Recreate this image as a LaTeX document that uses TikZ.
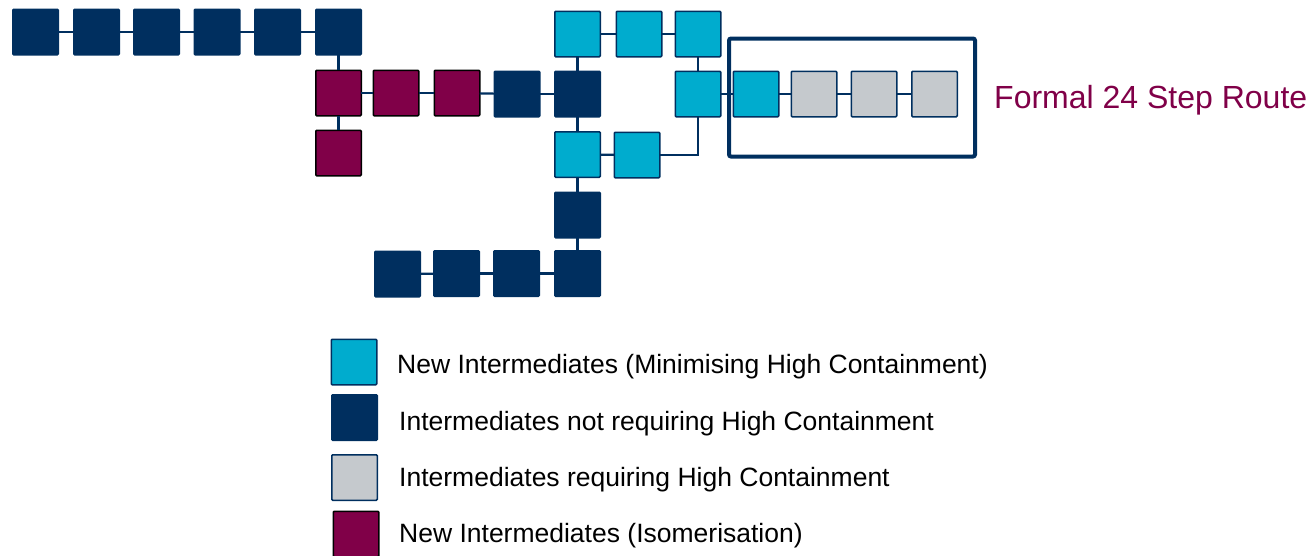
\documentclass[tikz,border=0pt]{standalone}
\usepackage{fontspec}
\setmainfont{Liberation Sans}
\definecolor{navy}{RGB}{0,47,95}
\definecolor{cyanb}{RGB}{0,172,206}
\definecolor{purp}{RGB}{128,0,72}
\definecolor{grayb}{RGB}{197,201,205}
\begin{document}
\begin{tikzpicture}[x=1pt,y=-1pt,
  sq/.style={draw, minimum size=45.5pt, inner sep=0pt, outer sep=0pt, line width=1.5pt, rounded corners=1pt},
  nv/.style={sq, fill=navy, draw=navy},
  cy/.style={sq, fill=cyanb, draw=navy},
  pu/.style={sq, fill=purp, draw=black},
  gr/.style={sq, fill=grayb, draw=navy},
  link/.style={draw=navy, line width=2.2pt},
  legtext/.style={anchor=base west, inner sep=0pt, font=\fontsize{26.5}{30}\selectfont},
  ]
\useasboundingbox (0,0) rectangle (1310,555);
\clip (0,0) rectangle (1310,555);
% top navy row
\node[nv] (n1) at (35.5,32) {};
\node[nv] (n2) at (96.5,32) {};
\node[nv] (n3) at (156.5,32) {};
\node[nv] (n4) at (217,32) {};
\node[nv] (n5) at (277.5,32) {};
\node[nv] (n6) at (338.5,32) {};
% purple
\node[pu] (p1) at (338.5,93) {};
\node[pu] (p2) at (396,93) {};
\node[pu] (p3) at (457,93) {};
\node[pu] (p4) at (338.5,153) {};
% middle navy
\node[nv] (m1) at (517,94) {};
\node[nv] (m2) at (577.5,94) {};
% cyan
\node[cy] (c1) at (577.5,34) {};
\node[cy] (c2) at (639,34) {};
\node[cy] (c3) at (698,34) {};
\node[cy] (c4) at (698,94) {};
\node[cy] (c5) at (577.5,154.5) {};
\node[cy] (c6) at (637,155) {};
% lower navy
\node[nv] (d1) at (577.5,215) {};
\node[nv] (b1) at (397.5,274) {};
\node[nv] (b2) at (456.5,273.5) {};
\node[nv] (b3) at (516.5,273.5) {};
\node[nv] (b4) at (577.5,273.5) {};
% formal route box
\node[draw=navy, line width=4pt, rounded corners=2pt, minimum width=246pt, minimum height=118pt, inner sep=0pt] (box) at (852,97.5) {};
\node[cy] (c7) at (756,94) {};
\node[gr] (g1) at (814,94) {};
\node[gr] (g2) at (874,94) {};
\node[gr] (g3) at (934.5,94) {};
\node[anchor=base west, inner sep=0pt, text=purp, font=\fontsize{32}{36}\selectfont] (title) at (994,108) {Formal 24 Step Route};
% connectors
\draw[link] (n1) -- (n2);
\draw[link] (n2) -- (n3);
\draw[link] (n3) -- (n4);
\draw[link] (n4) -- (n5);
\draw[link] (n5) -- (n6);
\draw[link] (n6) -- (p1);
\draw[link] (p1) -- (p2);
\draw[link] (p2) -- (p3);
\draw[link] (p3) -- (m1);
\draw[link] (m1) -- (m2);
\draw[link] (p1) -- (p4);
\draw[link] (m2) -- (c1);
\draw[link] (m2) -- (c5);
\draw[link] (c1) -- (c2);
\draw[link] (c2) -- (c3);
\draw[link] (c3) -- (c4);
\draw[link] (c4) -- (c7);
\draw[link] (c7) -- (g1);
\draw[link] (g1) -- (g2);
\draw[link] (g2) -- (g3);
\draw[link] (c5) -- (c6);
\draw[link] (c6.east) -| (c4.south);
\draw[link] (c5) -- (d1);
\draw[link] (d1) -- (b4);
\draw[link] (b1) -- (b2);
\draw[link] (b2) -- (b3);
\draw[link] (b3) -- (b4);
% legend
\node[cy] (l1) at (354,362) {};
\node[nv] (l2) at (354.5,417.5) {};
\node[gr] (l3) at (354.5,477.5) {};
\node[pu] (l4) at (356,534) {};
\node[legtext] (t1) at (397,373) {New Intermediates (Minimising High Containment)};
\node[legtext] (t2) at (399,430) {Intermediates not requiring High Containment};
\node[legtext] (t3) at (399,486) {Intermediates requiring High Containment};
\node[legtext] (t4) at (399,542) {New Intermediates (Isomerisation)};
\end{tikzpicture}
\end{document}
